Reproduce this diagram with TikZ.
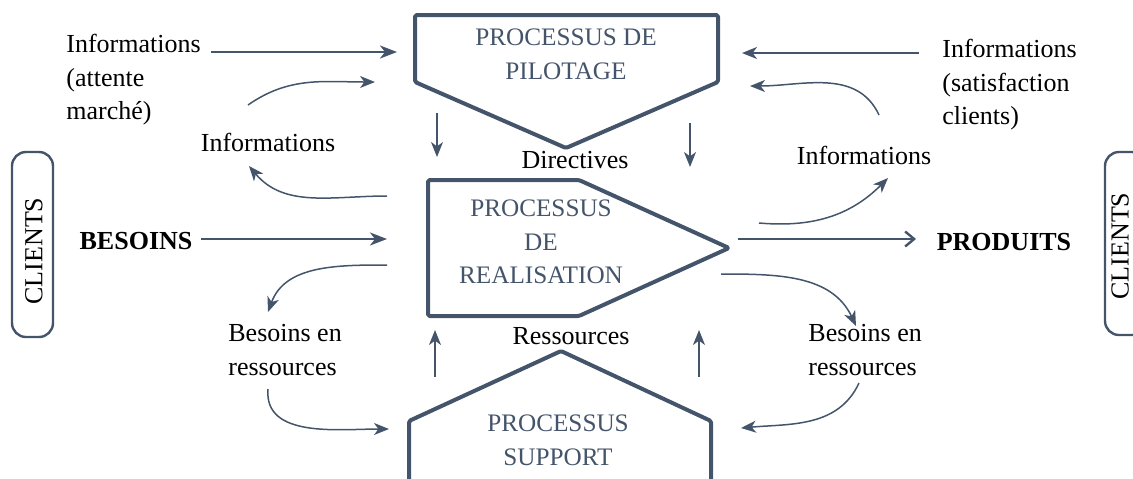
\documentclass[tikz,border=0pt]{standalone}
\usepackage{fontspec}
\setmainfont{Liberation Serif}
\usetikzlibrary{arrows.meta}
\definecolor{slate}{HTML}{44546A}
\begin{document}
\begin{tikzpicture}[x=0.5pt,y=-0.5pt,
  lbl/.style={inner sep=0pt, font=\fontsize{13}{16.8}\selectfont, align=left},
  proc/.style={draw=slate, line width=2pt, line join=round, rounded corners=0.8pt},
  proctext/.style={inner sep=0pt, text=slate, font=\fontsize{12.6}{16.8}\selectfont, align=center},
  clientbox/.style={draw=slate, line width=1.2pt, rounded corners=7pt},
  flow/.style={draw=slate, line width=1.2pt, -{Stealth[length=8.5pt,width=6.5pt,inset=2.5pt]}},
  thinflow/.style={draw=slate, line width=0.75pt, -{Stealth[length=7.5pt,width=6pt,inset=2.2pt]}},
  outflow/.style={draw=slate, line width=1.2pt, -{Straight Barb[length=4.5pt,width=7.5pt]}}
]
\clip (0,0) rectangle (1133,478);

% process shapes
\draw[proc] (415,15) -- (718,15) -- (718,82) -- (566,148) -- (415,82) -- cycle;
\draw[proc] (428,180) -- (579,180) -- (729,248) -- (579,316) -- (428,316) -- cycle;
\draw[proc] (409,490) -- (409,421) -- (561,351) -- (711,421) -- (711,490);

\node[proctext] (pilot) at (566,54) {PROCESSUS DE\\PILOTAGE};
\node[proctext] (real) at (541,242) {PROCESSUS\\DE\\REALISATION};
\node[proctext] (supp) at (558,440) {PROCESSUS\\SUPPORT};

% clients on both sides
\draw[clientbox] (12,152) rectangle (53,337);
\node[lbl, rotate=90] (cliL) at (34,251) {CLIENTS};
\draw[clientbox] (1105,152) rectangle (1146,335);
\node[lbl, rotate=90] (cliR) at (1120,246) {CLIENTS};

% labels
\node[lbl, anchor=west] (infoL) at (66,80) {Informations\\(attente\\marché)};
\node[lbl, anchor=west] (infoR) at (942,85) {Informations\\(satisfaction\\clients)};
\node[lbl] (infoML) at (268,142) {Informations};
\node[lbl] (infoMR) at (864,155) {Informations};
\node[lbl] (dir) at (575,160) {Directives};
\node[lbl] (res) at (571,336) {Ressources};
\node[lbl, anchor=west] (besL) at (228,350) {Besoins en\\ressources};
\node[lbl, anchor=west] (besR) at (808,350) {Besoins en\\ressources};
\node[lbl, font=\fontsize{13}{16.8}\selectfont\bfseries] (besoins) at (136,241) {BESOINS};
\node[lbl, font=\fontsize{13}{16.8}\selectfont\bfseries] (produits) at (1004,242) {PRODUITS};

% connector end points
\coordinate (a1) at (211,52);  \coordinate (a2) at (397,52);
\coordinate (b1) at (248,105); \coordinate (b2) at (375,82);
\coordinate (c1) at (387,196); \coordinate (c2) at (249,166);
\coordinate (d1) at (201,239); \coordinate (d2) at (387,239);
\coordinate (e1) at (387,265); \coordinate (e2) at (268,312);
\coordinate (f1) at (437,113); \coordinate (f2) at (437,157);
\coordinate (g1) at (690,123); \coordinate (g2) at (690,167);
\coordinate (h1) at (435,377); \coordinate (h2) at (435,330);
\coordinate (i1) at (699,377); \coordinate (i2) at (699,330);
\coordinate (j1) at (268,389); \coordinate (j2) at (389,429);
\coordinate (k1) at (919,53);  \coordinate (k2) at (742,53);
\coordinate (l1) at (879,115); \coordinate (l2) at (750,86);
\coordinate (m1) at (759,223); \coordinate (m2) at (888,178);
\coordinate (n1) at (738,239); \coordinate (n2) at (916,239);
\coordinate (o1) at (721,274); \coordinate (o2) at (856,326);
\coordinate (p1) at (859,383); \coordinate (p2) at (741,428);

% straight flows
\draw[flow] (a1) -- (a2);
\draw[flow] (d1) -- (d2);
\draw[thinflow] (k1) -- (k2);
\draw[outflow] (n1) -- (n2);
\draw[thinflow] (f1) -- (f2);
\draw[thinflow] (g1) -- (g2);
\draw[thinflow] (h1) -- (h2);
\draw[thinflow] (i1) -- (i2);

% curved flows
\draw[thinflow] (b1) to[out=35,in=180] (b2);
\draw[thinflow] (c1) to[out=180,in=-50] (c2);
\draw[thinflow] (e1) to[out=180,in=70] (e2);
\draw[thinflow] (j1) to[out=-95,in=180] (j2);
\draw[thinflow] (l1) to[out=115,in=0] (l2);
\draw[thinflow] (m1) to[out=-5,in=-135] (m2);
\draw[thinflow] (o1) to[out=0,in=115] (o2);
\draw[thinflow] (p1) to[out=-115,in=5] (p2);
\end{tikzpicture}
\end{document}
